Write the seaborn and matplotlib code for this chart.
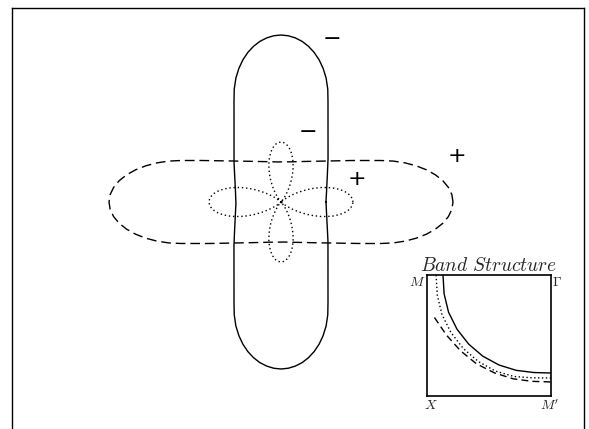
import numpy as np
import pandas as pd
import matplotlib
matplotlib.use("Agg")
import matplotlib.pyplot as plt
import seaborn as sns

# Gap magnitude |Delta(theta)| over the first quadrant, theta = 0, 2.5, ..., 90 deg
theta_step = 2.5
gap_solid = [45.0, 45.1, 45.4, 45.7, 46.1, 46.6, 47.2, 47.9, 48.8, 49.7,
             50.8, 52.1, 53.5, 55.1, 56.9, 59.0, 61.3, 63.8, 66.5, 69.6,
             73.1, 77.2, 81.9, 87.5, 94.0, 101.8, 111.2, 122.2, 131.9, 140.1,
             147.2, 153.2, 158.1, 162.0, 164.7, 166.4, 167.0]
gap_dashed = [172.0, 171.0, 168.0, 163.2, 156.7, 148.9, 139.9, 130.1, 119.6, 108.4,
              98.2, 89.9, 83.0, 77.0, 71.9, 67.6, 63.9, 60.6, 57.8, 55.3,
              53.2, 51.3, 49.6, 48.1, 46.8, 45.6, 44.6, 43.7, 42.9, 42.2,
              41.6, 41.2, 40.8, 40.5, 40.2, 40.1, 40.0]
gap_dotted = [72.0, 71.5, 69.8, 67.2, 63.6, 59.1, 54.0, 48.3, 42.3, 36.0,
              29.7, 23.7, 18.0, 12.9, 8.4, 4.8, 2.2, 0.5, 0.0, 0.5,
              1.8, 4.0, 7.0, 10.7, 15.0, 19.7, 24.8, 30.0, 35.2, 40.3,
              45.0, 49.3, 53.0, 56.0, 58.2, 59.5, 60.0]

# Sign of the gap on each lobe: (label, x, y)
sign_labels = [("\u2212", 51, 163), ("\u2212", 27, 70), ("+", 76, 23), ("+", 176, 46)]

# Fermi-surface pieces in the quarter zone (kx, ky in units of pi/a), Gamma at (1, 1)
fs_solid_kx = [0.129, 0.138, 0.174, 0.242, 0.336, 0.450, 0.581, 0.720, 0.861, 1.0]
fs_solid_ky = [1.0, 0.844, 0.692, 0.552, 0.429, 0.329, 0.256, 0.212, 0.194, 0.190]
fs_dotted_kx = [0.073, 0.083, 0.121, 0.194, 0.293, 0.414, 0.552, 0.702, 0.854, 1.0]
fs_dotted_ky = [1.0, 0.834, 0.672, 0.523, 0.392, 0.285, 0.206, 0.161, 0.150, 0.149]
fs_dashed_kx = [0.060, 0.158, 0.271, 0.399, 0.544, 0.695, 0.849, 1.0]
fs_dashed_ky = [0.649, 0.502, 0.373, 0.266, 0.191, 0.142, 0.121, 0.116]

# Zone-corner labels with their positions in inset-axes fractions
zone_labels = [("$M$", -0.08, 0.94), ("$\\Gamma$", 1.05, 0.94),
               ("$X$", 0.03, -0.075), ("$M'$", 0.99, -0.075)]

sns.set_theme(style="white")
plt.rcParams["mathtext.fontset"] = "cm"

W, H = 589, 429
fig = plt.figure(figsize=(W / 100, H / 100), dpi=100)
fig.patch.set_facecolor("white")

ax = fig.add_axes([12 / W, 1 - 450 / H, 572 / W, 442 / H])
ax.set_facecolor("white")


def full_turn(r_quadrant, step):
    """Extend a first-quadrant radius list to a closed curve using the square symmetry."""
    q = list(r_quadrant)
    r = np.asarray(q + q[::-1][1:] + q[1:] + q[::-1][1:])
    ang = np.deg2rad(np.arange(len(r)) * step)
    return pd.DataFrame({"x": r * np.cos(ang), "y": r * np.sin(ang)})


styles = [
    (gap_solid, "-"),
    (gap_dashed, (0, (7, 3.5))),
    (gap_dotted, (0, (1, 2))),
]
for gap, ls in styles:
    df = full_turn(gap, theta_step)
    sns.lineplot(data=df, x="x", y="y", sort=False, estimator=None,
                 color="black", lw=1.0, linestyle=ls, ax=ax)

for txt, x, y in sign_labels:
    ax.text(x, y, txt, fontsize=16, ha="center", va="center", color="black",
            family="DejaVu Sans")

ax.set_xlim(-269, 303)
ax.set_ylim(-248, 194)
ax.set_xticks([])
ax.set_yticks([])
ax.set_xlabel("")
ax.set_ylabel("")
for s in ax.spines.values():
    s.set_color("black")
    s.set_linewidth(1.0)

# Inset: Fermi surfaces in the quarter Brillouin zone
axi = fig.add_axes([427 / W, 1 - 396 / H, 124 / W, 121 / H])
axi.set_facecolor("white")
fs = [
    (fs_solid_kx, fs_solid_ky, "-"),
    (fs_dotted_kx, fs_dotted_ky, (0, (1, 1.8))),
    (fs_dashed_kx, fs_dashed_ky, (0, (5, 3))),
]
for kx, ky, ls in fs:
    sns.lineplot(x=kx, y=ky, sort=False, estimator=None, color="black",
                 lw=1.0, linestyle=ls, ax=axi)
axi.set_xlim(0, 1)
axi.set_ylim(0, 1)
axi.set_xticks([])
axi.set_yticks([])
for s in axi.spines.values():
    s.set_color("black")
    s.set_linewidth(1.2)

for txt, fx, fy in zone_labels:
    axi.text(fx, fy, txt, fontsize=10, ha="center", va="center",
             transform=axi.transAxes, clip_on=False)

axi.text(0.5, 1.08, "$\\mathit{Band\\ Structure}$", fontsize=14,
         ha="center", va="center", transform=axi.transAxes)

fig.savefig("out.png", dpi=100, facecolor="white")
